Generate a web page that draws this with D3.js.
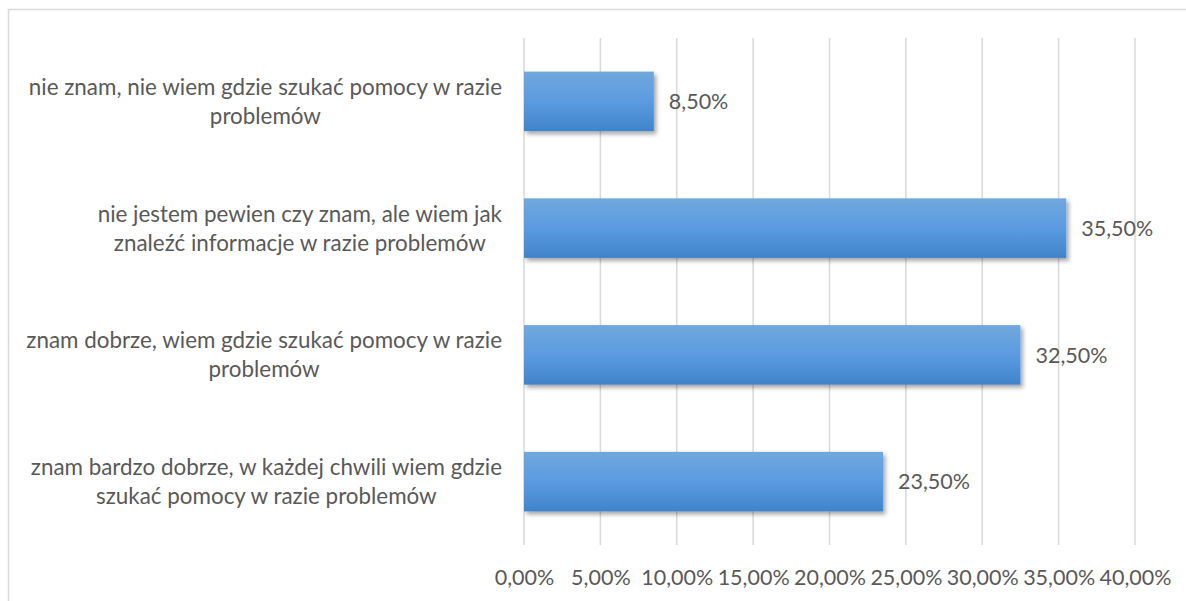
<!DOCTYPE html>
<html><head><meta charset="utf-8">
<script src="https://cdn.jsdelivr.net/npm/d3@7"></script>
<style>
html,body{margin:0;padding:0;background:#fff;}
svg{display:block;}
text{font-family:Lato,"Liberation Sans",sans-serif;fill:#595959;}
</style></head>
<body>
<svg id="chart" width="1186" height="601"></svg>
<script>
const categories = [
  ["nie znam, nie wiem gdzie szukać pomocy w razie", "problemów"],
  ["nie jestem pewien czy znam, ale wiem jak", "znaleźć informacje w razie problemów"],
  ["znam dobrze, wiem gdzie szukać pomocy w razie", "problemów"],
  ["znam bardzo dobrze, w każdej chwili wiem gdzie", "szukać pomocy w razie problemów"]
];
const values = [0.085, 0.355, 0.325, 0.235];
const valueLabels = ["8,50%", "35,50%", "32,50%", "23,50%"];
const tickValues = [0, 0.05, 0.10, 0.15, 0.20, 0.25, 0.30, 0.35, 0.40];
const tickLabels = ["0,00%", "5,00%", "10,00%", "15,00%", "20,00%", "25,00%", "30,00%", "35,00%", "40,00%"];

const svg = d3.select("#chart");
const defs = svg.append("defs");
const grad = defs.append("linearGradient").attr("id","barGrad").attr("x1",0).attr("y1",0).attr("x2",0).attr("y2",1);
grad.append("stop").attr("offset","0%").attr("stop-color","#70a8dd");
grad.append("stop").attr("offset","50%").attr("stop-color","#5b9be0");
grad.append("stop").attr("offset","100%").attr("stop-color","#3f84cb");
const filt = defs.append("filter").attr("id","shadow").attr("x","-10%").attr("y","-20%").attr("width","130%").attr("height","160%");
filt.append("feDropShadow").attr("dx",2.5).attr("dy",3).attr("stdDeviation",2).attr("flood-color","#000").attr("flood-opacity",0.35);

// outer border
svg.append("rect").attr("x",8.5).attr("y",9.5).attr("width",1200).attr("height",620)
  .attr("fill","none").attr("stroke","#d9d9d9").attr("stroke-width",1.5);

const x = d3.scaleLinear().domain([0,0.40]).range([524,1135]);
const y = d3.scaleBand().domain(d3.range(categories.length)).range([38,545]).paddingInner(0.53).paddingOuter(0.265);

// gridlines
svg.append("g").selectAll("line").data(tickValues).join("line")
  .attr("x1",d=>x(d)).attr("x2",d=>x(d)).attr("y1",38).attr("y2",545)
  .attr("stroke","#d9d9d9").attr("stroke-width",1.5);

// axis tick labels
const xAxis = d3.axisBottom(x).tickValues(tickValues).tickFormat((d,i)=>tickLabels[i]).tickSize(0).tickPadding(0);
const gx = svg.append("g").attr("transform","translate(0,570)").call(xAxis);
gx.select(".domain").remove();
gx.selectAll("text").attr("font-family","Lato").attr("font-size","21.5px").attr("fill","#595959").attr("dy","0.71em").attr("y",0);

// bars
svg.append("g").selectAll("rect").data(values).join("rect")
  .attr("x",x(0)).attr("y",(d,i)=>y(i)).attr("width",d=>x(d)-x(0)).attr("height",y.bandwidth())
  .attr("fill","url(#barGrad)").attr("filter","url(#shadow)");

// value labels
svg.append("g").selectAll("text").data(values).join("text")
  .attr("x",d=>x(d)+15).attr("y",(d,i)=>y(i)+y.bandwidth()/2)
  .attr("dy","0.36em").attr("font-size","21.5px").text((d,i)=>valueLabels[i]);

// category labels: right-aligned block, lines centered within block
const rightEdge = 502;
const lineGap = 29;
categories.forEach((lines,i)=>{
  const cy = y(i)+y.bandwidth()/2;
  const g = svg.append("g");
  const ts = g.selectAll("text").data(lines).join("text")
    .attr("font-size","22.4px")
    .attr("y",(d,j)=>cy + (j-(lines.length-1)/2)*lineGap)
    .attr("dy","0.36em").attr("text-anchor","middle").text(d=>d);
  let maxW = 0;
  ts.each(function(){ maxW = Math.max(maxW, this.getComputedTextLength()); });
  ts.attr("x", rightEdge - maxW/2);
});
</script>
</body></html>
